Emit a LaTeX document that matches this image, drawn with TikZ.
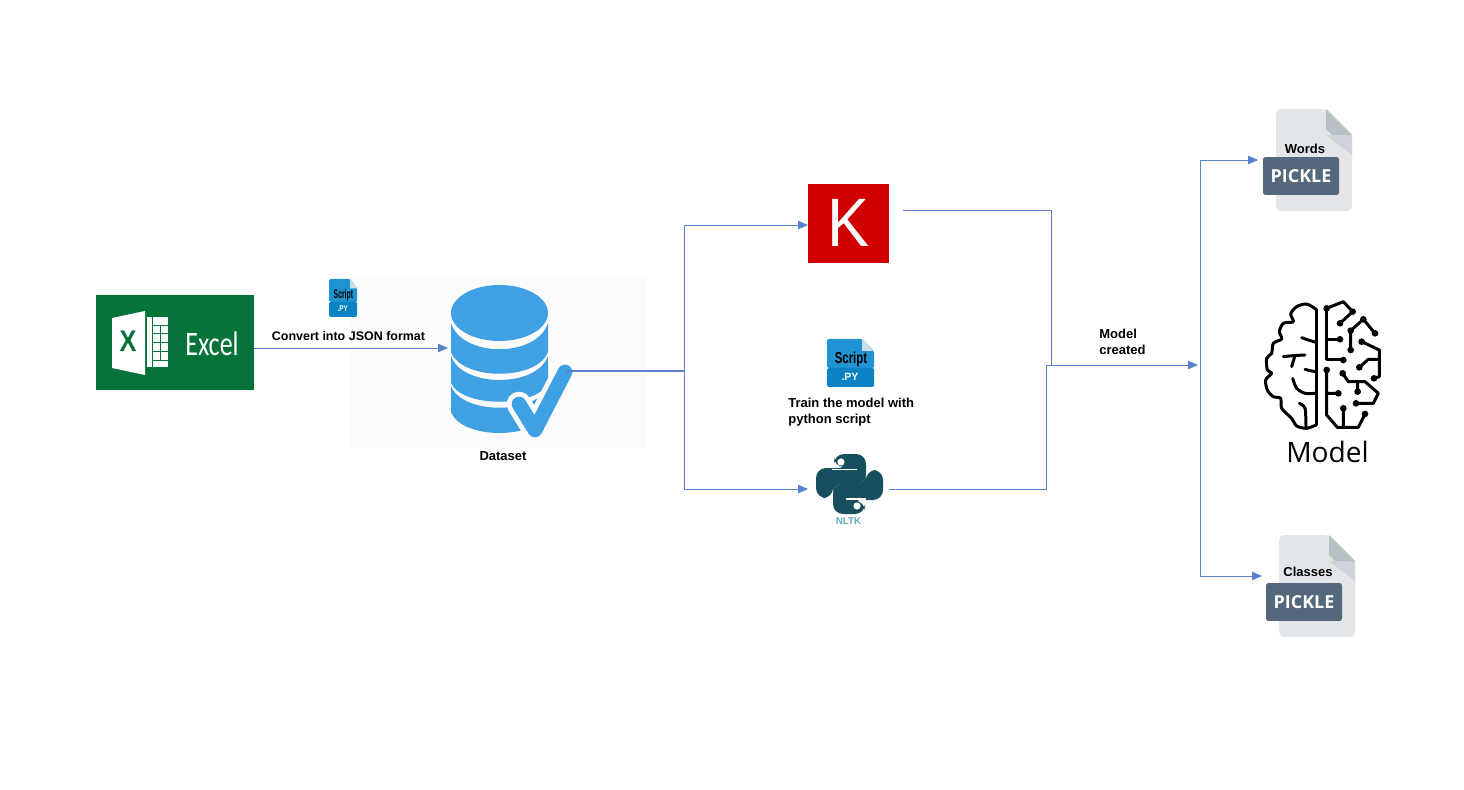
\documentclass[tikz,border=0pt]{standalone}
\usepackage{fontspec}
\setmainfont{Liberation Sans}
\newfontfamily\openfont{Open Sans}
\newfontfamily\calfont{Carlito}
\usepackage{xcolor}
\usetikzlibrary{arrows.meta}

\definecolor{wireblue}{HTML}{5B82CC}
\definecolor{dbblue}{HTML}{3FA0E3}
\definecolor{excelgreen}{HTML}{047239}
\definecolor{kerasred}{HTML}{D00000}
\definecolor{pythonteal}{HTML}{174F5E}
\definecolor{nltkblue}{HTML}{62A9BD}
\definecolor{tagslate}{HTML}{55677A}
\definecolor{filegray}{HTML}{E3E6E9}
\definecolor{foldgray}{HTML}{B7C0C5}
\definecolor{foldshade}{HTML}{CED4D9}
\definecolor{scriptblue}{HTML}{2094D2}
\definecolor{scriptdark}{HTML}{0A83C5}
\definecolor{scriptfold}{HTML}{C9DCE8}

\tikzset{
    wire/.style={draw=wireblue, line width=.5pt},
    arrow/.style={wire, -{Triangle[length=.2cm,width=.17cm]}},
    note/.style={font=\bfseries\fontsize{7.4}{9}\selectfont, align=left, inner sep=0pt},
    brainline/.style={line width=1.7pt, line cap=round, line join=round},
    scriptfile/.pic={
        \fill[scriptblue, rounded corners=.03cm] (0,0) -- (35,0) -- (47,12) -- (47,29) -- (0,29) -- cycle;
        \fill[scriptdark, rounded corners=.03cm] (0,29) -- (47,29) -- (47,48) -- (0,48) -- cycle;
        \fill[scriptfold] (35,0) -- (47,12) -- (35,12) -- cycle;
        \node[xscale=.72, inner sep=0pt, font=\bfseries\fontsize{9}{9}\selectfont] (-name) at (24,20) {Script};
        \node[white, inner sep=0pt, font=\bfseries\fontsize{6}{6}\selectfont] (-ext) at (23,38) {.PY};
    },
    picklefile/.pic={
        \fill[filegray, rounded corners=.1cm] (0,0) -- (50,0) -- (76,26) -- (76,102) -- (0,102) -- cycle;
        \fill[foldshade] (50,26) -- (76,26) -- (76,46) -- cycle;
        \fill[foldgray] (50,0) -- (76,26) -- (56,26) -- (50,20) -- cycle;
        \node[fill=tagslate, rounded corners=.05cm, minimum width=1.52cm, minimum height=.76cm, inner sep=0pt,
              text=white, font=\openfont\bfseries\fontsize{10.2}{10}\selectfont] (-tag) at (25,67) {PICKLE};
    }
}

\begin{document}
\begin{tikzpicture}[x=.02cm, y=-.02cm]

\useasboundingbox (0,0) rectangle (1464,790);

% excel
\node[fill=excelgreen, minimum width=3.16cm, minimum height=1.9cm, inner sep=0pt, outer sep=0pt] (excel) at (175,342.5) {};
\fill[white] (112,318) -- (145,311) -- (145,375) -- (112,368) -- cycle;
\fill[white] (147,317) rectangle (168,367);
\draw[excelgreen, line width=.4pt] (152,317) -- (152,367) (160,325) -- (160,360)
    (152,325) -- (168,325) (152,333) -- (168,333) (152,342) -- (168,342) (152,351) -- (168,351) (152,360) -- (168,360);
\node[excelgreen, xscale=.85, inner sep=0pt, font=\bfseries\fontsize{17}{17}\selectfont] (excelx) at (128,341) {X};
\node[white, xscale=.76, inner sep=0pt, font=\calfont\fontsize{19.5}{20}\selectfont] (exceltext) at (212,344) {Excel};

% dataset
\node[fill=black!1.5, minimum width=5.94cm, minimum height=3.42cm, inner sep=0pt] (dbback) at (497.5,363.5) {};
\fill[dbblue] (499.5,313) ellipse (48.5 and 28);
\fill[dbblue] (451,323) .. controls (462,358) and (537,358) .. (548,323) -- (548,352) .. controls (537,381) and (462,381) .. (451,352) -- cycle;
\fill[dbblue] (451,356) .. controls (462,388) and (537,388) .. (548,356) -- (548,383) .. controls (537,408) and (462,408) .. (451,383) -- cycle;
\fill[dbblue] (451,386) .. controls (462,415) and (537,415) .. (548,386) -- (548,412) .. controls (537,440) and (462,440) .. (451,412) -- cycle;
\draw[black!1.5, line width=14pt, line cap=round, line join=round] (519,404) -- (535,430) -- (565,372);
\draw[dbblue, line width=8.4pt, line cap=round, line join=round] (519,404) -- (535,430) -- (565,372);
\node[note] (dataset) at (503,456) {Dataset};

% scripts
\pic[xscale=.6, yscale=.79, transform shape] (smallscript) at (329,279) {scriptfile};
\node[note, font=\bfseries\fontsize{7.1}{9}\selectfont] (convert) at (348.5,336) {Convert into JSON format};
\pic (bigscript) at (827,339) {scriptfile};
\node[note, anchor=north west] (train) at (788,398) {Train the model with\\python script};

% keras
\node[fill=kerasred, minimum width=1.62cm, minimum height=1.58cm, inner sep=0pt, outer sep=0pt] (keras) at (848.5,223.5) {};
\node[text=white, xscale=.92, inner sep=0pt, font=\fontsize{39}{39}\selectfont] (kerask) at (849,223) {K};

% python
\node[minimum width=1.62cm, minimum height=1.2cm, inner sep=0pt, outer sep=0pt] (python) at (848.5,489) {};
\fill[pythonteal, rounded corners=.2cm] (834,467) -- (834,454) -- (866,454) -- (866,484) -- (833,484) -- (833,498) -- (816,498) -- (816,468) -- (850,468) -- (850,467) -- cycle;
\fill[pythonteal, rounded corners=.2cm] (865,501) -- (865,514) -- (833,514) -- (833,484) -- (866,484) -- (866,470) -- (883,470) -- (883,500) -- (849,500) -- (849,501) -- cycle;
\fill[pythonteal] (840,478) rectangle (860,490);
\draw[white, line width=.6pt] (832,469.5) -- (857,469.5) (846,499) -- (866,499);
\fill[white] (841,462) circle (3.6) (857,506) circle (3.6);
\node[text=nltkblue, inner sep=0pt, font=\bfseries\fontsize{5.6}{6}\selectfont] (nltk) at (848.5,521) {NLTK};

% pickle files
\pic (wordsfile) at (1276,109) {picklefile};
\node[note] (words) at (1305,149) {Words};
\pic (classesfile) at (1279,535) {picklefile};
\node[note] (classes) at (1308,572) {Classes};

% brain
\begin{scope}[shift={(1250,290)}, scale=.3333]
\draw[brainline] plot[smooth] coordinates {(198,58) (170,42) (140,50) (122,72) (130,95) (100,100) (88,125) (95,147) (70,160) (65,190) (50,205) (52,240) (65,250) (47,270) (52,300) (70,320) (92,325) (95,355) (125,385) (140,408) (170,415) (198,405)};
\draw[brainline] (198,58) -- (198,405);
\draw[brainline] plot[smooth] coordinates {(198,157) (175,150) (155,143)};
\draw[brainline] plot[smooth] coordinates {(100,200) (130,197) (165,195)};
\draw[brainline] (135,197) -- (125,230);
\draw[brainline] plot[smooth] coordinates {(198,245) (180,242) (165,238)};
\draw[brainline] plot[smooth] coordinates {(128,265) (140,295) (165,310) (198,310)};
\draw[brainline] plot[smooth] coordinates {(148,340) (165,355) (168,410)};
\draw[brainline] (230,55) -- (280,35) -- (308,65) -- (270,100);
\draw[brainline] (230,55) -- (230,210) -- (280,210) (230,148) -- (270,148);
\draw[brainline] (302,180) -- (302,122) -- (340,88) -- (375,130);
\draw[brainline] (335,155) -- (388,180) -- (388,260) -- (372,265) (328,232) -- (355,208) -- (388,208);
\draw[brainline] (230,240) -- (230,375) -- (262,412) -- (325,412) -- (345,372) (230,310) -- (265,310) (280,355) -- (280,412);
\draw[brainline] (278,250) -- (295,275) -- (345,275) -- (385,310) -- (370,340) -- (318,340) (323,305) -- (323,275);
\fill (230,55) circle (10) (308,65) circle (10) (270,100) circle (10) (270,148) circle (10) (280,210) circle (10)
      (302,122) circle (10) (302,180) circle (10) (340,88) circle (10) (375,130) circle (10) (335,155) circle (10)
      (372,265) circle (10) (328,232) circle (10) (230,240) circle (10) (265,310) circle (10) (280,355) circle (10)
      (345,372) circle (10) (278,250) circle (10) (318,340) circle (10) (323,305) circle (10);
\end{scope}
\node[inner sep=0pt, font=\openfont\fontsize{16}{16}\selectfont] (model) at (1327.5,452) {Model};

% labels and joints
\node[note, anchor=north west] (created) at (1099,329) {Model\\created};
\coordinate (dbin) at (448,348);
\coordinate (checkend) at (566,371);
\coordinate (split) at (684,371);
\coordinate (kerasin) at (808,225);
\coordinate (kerasout) at (903,210);
\coordinate (mergek) at (1051,365);
\coordinate (mergep) at (1046,365);
\coordinate (hub) at (1198,365);
\coordinate (fork) at (1200,365);
\coordinate (wordsin) at (1258,160);
\coordinate (classesin) at (1262,576);

% connectors
\draw[arrow] (excel.east |- dbin) -- (dbin);
\draw[wire, line width=.8pt] (checkend) -- (split);
\draw[arrow] (split) |- (kerasin);
\draw[arrow] (split) |- (python.west);
\draw[wire] (kerasout) -| (mergek);
\draw[wire] (python.east) -| (mergep);
\draw[arrow] (mergep) -- (hub);
\draw[arrow] (fork) |- (wordsin);
\draw[arrow] (fork) |- (classesin);

\end{tikzpicture}
\end{document}
